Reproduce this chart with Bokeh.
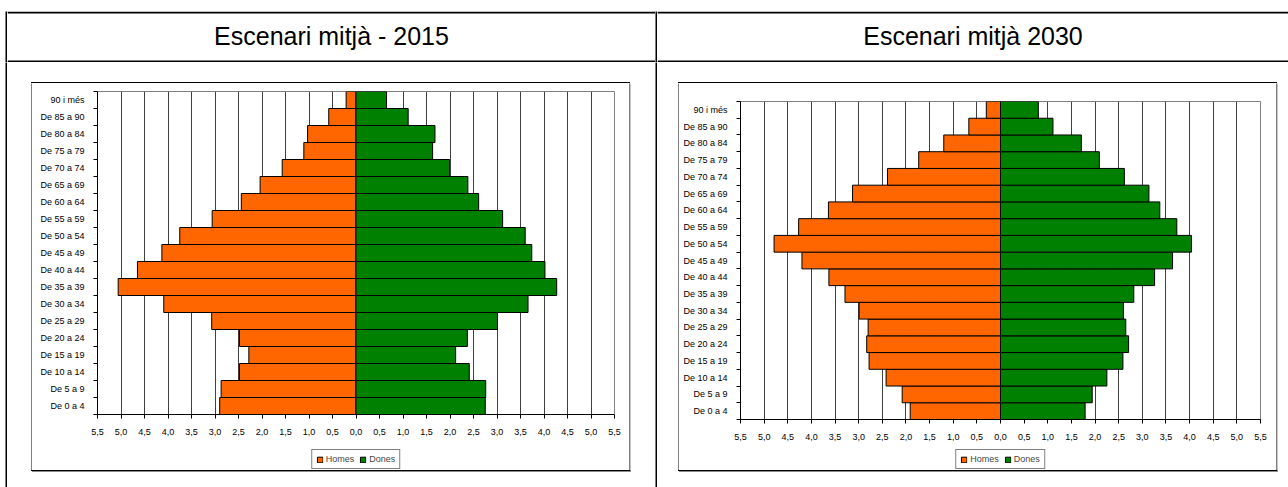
import numpy as np
from bokeh.plotting import figure
from bokeh.layouts import row, column
from bokeh.models import (ColumnDataSource, FixedTicker, LinearAxis, Range1d, Legend, LegendItem,
                          CustomJSTickFormatter, Grid, Spacer)
from bokeh.core.properties import value
from bokeh.embed import file_html
from bokeh.resources import INLINE

# ---------------- data ----------------
age_groups = ["De 0 a 4", "De 5 a 9", "De 10 a 14", "De 15 a 19", "De 20 a 24",
              "De 25 a 29", "De 30 a 34", "De 35 a 39", "De 40 a 44", "De 45 a 49",
              "De 50 a 54", "De 55 a 59", "De 60 a 64", "De 65 a 69", "De 70 a 74",
              "De 75 a 79", "De 80 a 84", "De 85 a 90", "90 i més"]

homes_2015 = [2.90, 2.87, 2.48, 2.28, 2.48, 3.07, 4.09, 5.06, 4.65, 4.13,
              3.75, 3.06, 2.44, 2.04, 1.57, 1.11, 1.03, 0.58, 0.21]
dones_2015 = [2.75, 2.76, 2.41, 2.12, 2.37, 3.01, 3.66, 4.27, 4.02, 3.74,
              3.60, 3.12, 2.61, 2.38, 1.99, 1.63, 1.68, 1.11, 0.65]

homes_2030 = [1.91, 2.08, 2.42, 2.78, 2.83, 2.80, 2.99, 3.29, 3.63, 4.20,
              4.79, 4.27, 3.64, 3.13, 2.39, 1.73, 1.20, 0.67, 0.30]
dones_2030 = [1.79, 1.94, 2.25, 2.59, 2.71, 2.65, 2.60, 2.82, 3.26, 3.64,
              4.04, 3.73, 3.37, 3.14, 2.62, 2.09, 1.71, 1.11, 0.80]

x_ticks = [-5.5, -5.0, -4.5, -4.0, -3.5, -3.0, -2.5, -2.0, -1.5, -1.0, -0.5, 0.0,
           0.5, 1.0, 1.5, 2.0, 2.5, 3.0, 3.5, 4.0, 4.5, 5.0, 5.5]
x_tick_labels = ["5,5", "5,0", "4,5", "4,0", "3,5", "3,0", "2,5", "2,0", "1,5", "1,0", "0,5", "0,0",
                 "0,5", "1,0", "1,5", "2,0", "2,5", "3,0", "3,5", "4,0", "4,5", "5,0", "5,5"]

titles = ["Escenari mitjà - 2015", "Escenari mitjà 2030"]
series_names = ["Homes", "Dones"]
series_colors = ["#FF6600", "#008000"]

FONT = "Liberation Sans"


def plain(w, h, **kw):
    return figure(width=w, height=h, min_border=0, x_axis_type=None, y_axis_type=None,
                  title_location=None, toolbar_location=None, output_backend="svg",
                  outline_line_color=None, **kw)


def vbar_strip(w, h, color="black"):
    """vertical solid strip (table rules / chart frame sides)"""
    f = plain(w, h, background_fill_color=color, border_fill_color=color)
    f.grid.visible = False
    return f


def hstrip(w, h, color="black"):
    """horizontal solid strip"""
    return Spacer(width=w, height=h, styles={"background-color": color})


def title_cell(text, w, h):
    # header cell of the table, with its top and bottom rules
    f = plain(w, h, x_range=Range1d(0, w), y_range=Range1d(h, 0),
              background_fill_color="white", border_fill_color="white")
    f.grid.visible = False
    f.quad(left=[0, 0], right=[w, w], top=[0, h - 2], bottom=[2, h],
           fill_color="black", line_color=None)
    f.text(x=[w / 2], y=[24], text=[text], text_align="center", text_baseline="middle",
           text_font=value(FONT), text_font_size="25px", text_color="black")
    return f


def make_source(homes, dones):
    n = len(age_groups)
    return ColumnDataSource(dict(y=np.arange(n) + 0.5, group=age_groups,
                                 hl=-np.array(homes), dr=np.array(dones), z=np.zeros(n)))


def pyramid(src, w, h, mb):
    n = len(age_groups)
    p = figure(width=w, height=h,
               x_range=Range1d(x_ticks[0], x_ticks[-1]), y_range=Range1d(0, n),
               x_axis_type=None, y_axis_type=None, title_location=None,
               toolbar_location=None, output_backend="svg",
               min_border_left=mb[0], min_border_right=mb[1],
               min_border_top=mb[2], min_border_bottom=mb[3],
               outline_line_color="#808080")

    xt = FixedTicker(ticks=x_ticks, minor_ticks=[])
    xaxis = LinearAxis(ticker=xt, major_label_overrides=dict(zip(x_ticks, x_tick_labels)))
    xaxis.axis_line_color = "black"
    xaxis.major_tick_line_color = "black"
    xaxis.major_tick_out = 4
    xaxis.major_tick_in = 0
    xaxis.major_label_standoff = 10
    xaxis.major_label_text_font = FONT
    xaxis.major_label_text_font_size = "9px"
    xaxis.major_label_text_color = "black"
    p.add_layout(xaxis, "below")

    ypos = list(np.arange(n) + 0.5)
    yt = FixedTicker(ticks=ypos, minor_ticks=list(range(n + 1)))
    yaxis = LinearAxis(ticker=yt, formatter=CustomJSTickFormatter(
        args=dict(labels=age_groups), code="return labels[Math.floor(tick)]"))
    yaxis.axis_line_color = "black"
    yaxis.major_tick_out = 0
    yaxis.major_tick_in = 0
    yaxis.minor_tick_out = 4
    yaxis.minor_tick_in = 0
    yaxis.minor_tick_line_color = "black"
    yaxis.major_label_standoff = 9
    yaxis.major_label_text_font = FONT
    yaxis.major_label_text_font_size = "9px"
    yaxis.major_label_text_color = "black"
    p.add_layout(yaxis, "left")

    p.add_layout(Grid(dimension=0, ticker=xt, grid_line_color="#404040"))

    p.hbar(y="y", left="hl", right="z", height=1.0, source=src,
           fill_color=series_colors[0], line_color="black", line_width=1)
    p.hbar(y="y", left="z", right="dr", height=1.0, source=src,
           fill_color=series_colors[1], line_color="black", line_width=1)
    return p


def legend_fig(src, w, h):
    # strip that holds the legend; its ranges lie outside the data so no bar shows in it
    n = len(age_groups)
    f = plain(w, h, x_range=Range1d(x_ticks[0], x_ticks[-1]), y_range=Range1d(n + 5, n + 6))
    f.grid.visible = False
    r1 = f.hbar(y="y", left="hl", right="z", height=1, source=src,
                fill_color=series_colors[0], line_color="black")
    r2 = f.hbar(y="y", left="z", right="dr", height=1, source=src,
                fill_color=series_colors[1], line_color="black")
    lg = Legend(items=[LegendItem(label=series_names[0], renderers=[r1]),
                       LegendItem(label=series_names[1], renderers=[r2])],
                orientation="horizontal", location="center",
                label_text_font=FONT, label_text_font_size="9px",
                label_height=9, glyph_height=7, glyph_width=7,
                label_standoff=3, spacing=5, padding=4, margin=0,
                border_line_color="black", border_line_width=1,
                background_fill_color="white", background_fill_alpha=1.0)
    f.add_layout(lg, "center")
    return f


def chart_box(homes, dones, plot_mb, leg_left, leg_w, leg_right):
    inner_w, inner_h = 597, 387
    plot_h, leg_h = 365, 22
    src = make_source(homes, dones)
    p = pyramid(src, inner_w, plot_h, plot_mb)
    lg = legend_fig(src, leg_w, leg_h)
    inner = column(p, row(Spacer(width=leg_left, height=leg_h), lg,
                          Spacer(width=leg_right, height=leg_h)))
    box = column(row(hstrip(inner_w + 2, 1), Spacer(width=1, height=1)),
                 row(vbar_strip(1, inner_h), inner, vbar_strip(1, inner_h),
                     vbar_strip(1, inner_h, "#8c8c8c")),
                 row(hstrip(inner_w + 2, 1), hstrip(1, 1, "#8c8c8c")),
                 row(Spacer(width=1, height=1), hstrip(inner_w + 2, 1, "#8c8c8c")))
    return box   # 600 x 390


box1 = chart_box(homes_2015, dones_2015, (65, 15, 8, 34), 65, 517, 15)
box2 = chart_box(homes_2030, dones_2030, (61, 16, 18, 29), 61, 520, 16)

cell1 = column(Spacer(width=648, height=20),
               row(Spacer(width=24, height=390), box1, Spacer(width=24, height=390)),
               Spacer(width=648, height=15))
cell2 = column(Spacer(width=631, height=20),
               row(Spacer(width=21, height=390), box2, Spacer(width=10, height=390)),
               Spacer(width=631, height=15))

layout = column(
    Spacer(width=1288, height=11),
    row(Spacer(width=5, height=51), vbar_strip(2, 51), title_cell(titles[0], 648, 51),
        vbar_strip(2, 51), title_cell(titles[1], 631, 51)),
    row(Spacer(width=5, height=425), vbar_strip(2, 425), cell1, vbar_strip(2, 425), cell2),
)

open("out.html", "w").write(file_html(layout, INLINE))
